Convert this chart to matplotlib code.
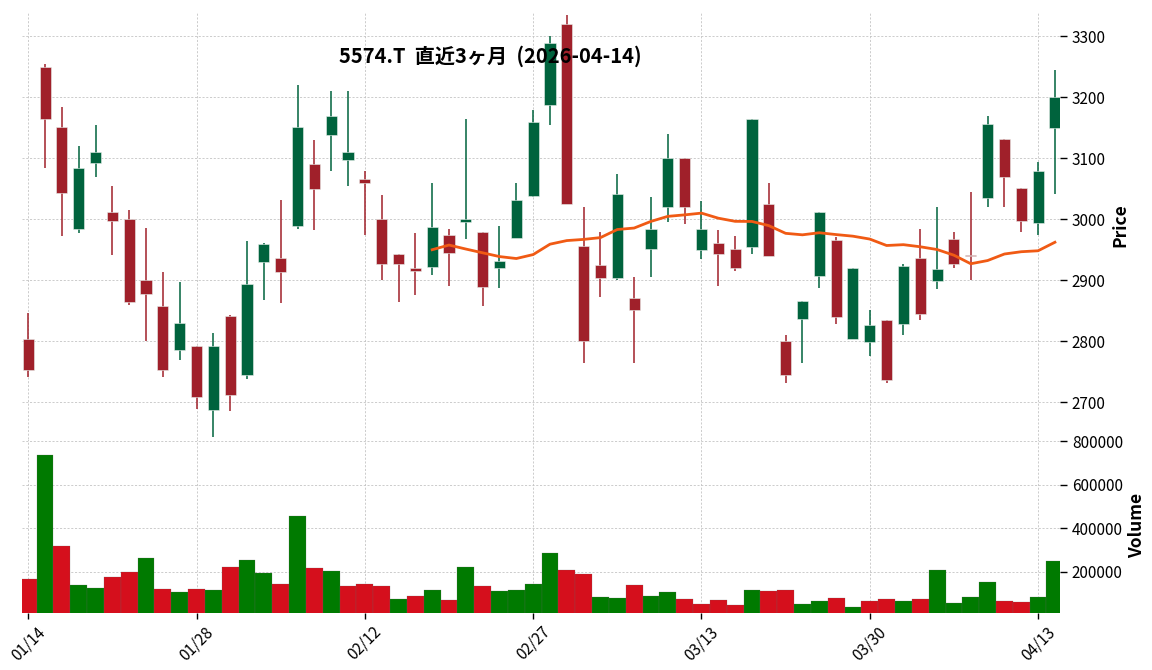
import matplotlib
matplotlib.use("Agg")
import matplotlib.pyplot as plt
import numpy as np
import pandas as pd

plt.rcParams['font.family'] = ['Noto Sans CJK JP', 'DejaVu Sans']

# daily OHLCV (62 trading days)
dates = ["01/14", "01/15", "01/16", "01/19", "01/20", "01/21", "01/22", "01/23", "01/26", "01/27",
         "01/28", "01/29", "01/30", "02/02", "02/03", "02/04", "02/05", "02/06", "02/09", "02/10",
         "02/12", "02/13", "02/16", "02/17", "02/18", "02/19", "02/20", "02/24", "02/25", "02/26",
         "02/27", "03/02", "03/03", "03/04", "03/05", "03/06", "03/09", "03/10", "03/11", "03/12",
         "03/13", "03/16", "03/17", "03/18", "03/19", "03/23", "03/24", "03/25", "03/26", "03/27",
         "03/30", "03/31", "04/01", "04/02", "04/03", "04/06", "04/07", "04/08", "04/09", "04/10",
         "04/13", "04/14"]
opens = [2804, 3250, 3151, 2985, 3093, 3012, 3000, 2900, 2858, 2785,
         2792, 2687, 2842, 2745, 2930, 2936, 2989, 3090, 3139, 3098,
         3066, 3000, 2943, 2921, 2922, 2974, 2996, 2980, 2920, 2969,
         3039, 3188, 3321, 2956, 2925, 2904, 2871, 2951, 3020, 3100,
         2950, 2961, 2951, 2955, 3026, 2800, 2836, 2907, 2966, 2804,
         2799, 2835, 2829, 2936, 2899, 2968, 2941, 3035, 3131, 3051,
         2994, 3150]
highs = [2847, 3255, 3184, 3121, 3155, 3055, 3016, 2986, 2913, 2897,
         2792, 2813, 2843, 2964, 2961, 3031, 3220, 3130, 3211, 3211,
         3080, 3040, 2943, 2977, 3060, 2985, 3165, 2980, 2989, 3060,
         3180, 3301, 3335, 3020, 2980, 3075, 2906, 3036, 3140, 3100,
         3030, 2982, 2972, 3165, 3060, 2810, 2866, 3012, 2971, 2921,
         2851, 2835, 2926, 2985, 3021, 2980, 3045, 3170, 3131, 3051,
         3094, 3245]
lows = [2742, 3085, 2973, 2978, 3070, 2941, 2860, 2800, 2741, 2770,
        2689, 2643, 2685, 2738, 2867, 2862, 2985, 2983, 3080, 3055,
        2975, 2900, 2865, 2876, 2908, 2890, 2968, 2858, 2888, 2969,
        3036, 3155, 3025, 2764, 2873, 2900, 2764, 2905, 2995, 2993,
        2935, 2890, 2916, 2944, 2940, 2731, 2765, 2888, 2829, 2804,
        2776, 2731, 2811, 2835, 2886, 2920, 2901, 3021, 3021, 2980,
        2974, 3041]
closes = [2753, 3164, 3044, 3085, 3111, 2998, 2864, 2877, 2753, 2830,
          2709, 2792, 2712, 2894, 2959, 2913, 3151, 3049, 3170, 3111,
          3060, 2927, 2927, 2915, 2987, 2945, 3000, 2889, 2931, 3031,
          3160, 3290, 3025, 2801, 2904, 3041, 2852, 2985, 3100, 3020,
          2985, 2943, 2920, 3165, 2940, 2744, 2866, 3012, 2840, 2921,
          2827, 2736, 2923, 2845, 2918, 2927, 2940, 3156, 3069, 2998,
          3080, 3201]
volumes = [169000, 737000, 321000, 141000, 128000, 178000, 201000, 266000, 123000, 109000,
           123000, 118000, 225000, 257000, 197000, 146000, 455000, 220000, 206000, 137000,
           146000, 137000, 77000, 91000, 118000, 72000, 225000, 137000, 114000, 118000,
           146000, 289000, 211000, 192000, 86000, 82000, 141000, 91000, 109000, 77000,
           54000, 72000, 49000, 118000, 114000, 118000, 54000, 68000, 82000, 40000,
           68000, 77000, 68000, 77000, 211000, 58000, 86000, 155000, 68000, 63000,
           86000, 252000]

df = pd.DataFrame({"Open": opens, "High": highs, "Low": lows, "Close": closes, "Volume": volumes})
x = np.arange(len(df))
ma25 = df["Close"].rolling(25).mean()

up_c = "#00633d"
down_c = "#a0202a"
vol_up = "#007a00"
vol_down = "#d50f1c"
grid_kw = dict(color="#c4c4c4", linestyle=(0, (2.5, 2)), linewidth=0.6)

fig = plt.figure(figsize=(11.52, 6.70), dpi=100)
ax = fig.add_axes([0.0191, 0.345, 0.901, 0.637])
axv = fig.add_axes([0.0191, 0.0851, 0.901, 0.2599], sharex=ax)

# candles
for i, row in df.iterrows():
    col = up_c if row.Close >= row.Open else down_c
    ax.vlines(i, row.Low, row.High, color=col, linewidth=1.1, zorder=2)
    lo = min(row.Open, row.Close)
    h = max(abs(row.Close - row.Open), 1.2)
    ax.bar(i, h, bottom=lo, width=0.66, color=col, edgecolor="#e8f0ec", linewidth=0.4, zorder=3)

ax.plot(x, ma25, color="#f05a14", linewidth=2, zorder=4)

# volume coloured by close vs previous close
vcols = [vol_up if df.Close[0] >= df.Open[0] else vol_down]
vcols += [vol_up if c >= p else vol_down for p, c in zip(closes[:-1], closes[1:])]
axv.bar(x, volumes, width=1.0, color=vcols, edgecolor="#666666", linewidth=0.15)

ax.set_ylim(2640, 3340)
axv.set_ylim(0.3 * min(volumes), 1.1 * max(volumes))
ax.set_xlim(-0.37, 61.3)

ticks = list(range(0, len(df), 10))
ax.set_xticks(ticks)
ax.set_yticks([2700, 2800, 2900, 3000, 3100, 3200, 3300])
axv.set_yticks([200000, 400000, 600000, 800000])
axv.set_xticklabels([dates[t] for t in ticks], rotation=45, ha="center", fontsize=11)
plt.setp(ax.get_xticklabels(), visible=False)

for a in (ax, axv):
    for s in a.spines.values():
        s.set_visible(False)
    a.yaxis.tick_right()
    a.yaxis.set_label_position("right")
    a.grid(True, **grid_kw)
    a.set_axisbelow(True)
    a.tick_params(axis="y", labelsize=11, length=5, width=1)
ax.tick_params(axis="x", length=0)
axv.tick_params(axis="x", length=4, width=1)

ax.set_ylabel("Price", fontsize=12.5, fontweight="bold", labelpad=4)
axv.set_ylabel("Volume", fontsize=12.5, fontweight="bold", labelpad=4)

fig.text(0.426, 0.916, "5574.T  直近3ヶ月  (2026-04-14)", ha="center", va="center",
         fontsize=14.5, fontweight="bold")

fig.savefig("out.png", dpi=100)
